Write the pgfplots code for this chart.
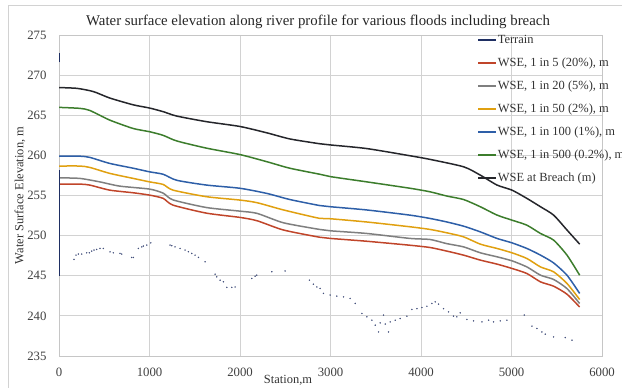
\documentclass[border=0pt]{standalone}
\usepackage{fontspec}
\setmainfont{Liberation Serif}
\usepackage{pgfplots}
\usepackage{pgfplotstable}
\pgfplotsset{compat=1.18}

\definecolor{cTerrain}{HTML}{1F2F63}
\definecolor{cRed}{HTML}{C0452A}
\definecolor{cGray}{HTML}{7F7F7F}
\definecolor{cGold}{HTML}{E0A010}
\definecolor{cBlue}{HTML}{2E5FA8}
\definecolor{cGreen}{HTML}{3C7D2C}
\definecolor{cBreach}{HTML}{25262B}

% Water surface elevation profiles (station in m, elevation in m)
\pgfplotstableread{
x y
0 256.42
230 256.42
340 256.30
560 255.67
820 255.34
1000 255.05
1150 254.65
1260 253.80
1630 252.80
2000 252.27
2190 251.85
2480 250.70
2880 249.80
3000 249.65
3400 249.30
3880 248.80
4100 248.52
4286 248.07
4470 247.57
4655 246.95
4840 246.45
5005 245.91
5170 245.28
5320 244.24
5465 243.70
5613 242.70
5753 241.10
}\wseFive
\pgfplotstableread{
x y
0 257.20
230 257.13
450 256.70
670 256.17
1000 255.80
1150 255.30
1260 254.45
1630 253.50
2000 253.05
2190 252.77
2480 251.60
2880 250.77
3000 250.60
3400 250.27
3880 249.65
4100 249.52
4286 249.00
4470 248.60
4655 247.86
4840 247.36
5005 246.86
5170 246.10
5320 245.07
5465 244.54
5613 243.40
5753 241.54
}\wseTwenty
\pgfplotstableread{
x y
0 258.67
230 258.67
340 258.50
560 257.76
820 257.13
1000 256.70
1150 256.38
1260 255.67
1630 254.85
2000 254.43
2190 254.10
2480 253.20
2880 252.15
3000 252.10
3400 251.70
3880 251.10
4100 250.77
4286 250.35
4470 249.85
4655 248.94
4840 248.40
5005 247.86
5170 247.15
5320 246.10
5465 245.49
5613 244.04
5753 242.04
}\wseFifty
\pgfplotstableread{
x y
0 259.90
230 259.90
340 259.75
560 259.00
820 258.40
1000 257.95
1150 257.65
1300 256.90
1630 256.30
2000 255.90
2300 255.25
2550 254.50
2880 253.75
3000 253.60
3400 253.20
3880 252.55
4100 252.14
4286 251.70
4470 251.18
4655 250.47
4840 249.65
5005 249.10
5170 248.40
5320 247.57
5465 246.60
5613 245.07
5753 242.80
}\wseHundred
\pgfplotstableread{
x y
0 265.98
230 265.86
340 265.60
560 264.40
820 263.35
1000 262.95
1150 262.50
1300 261.80
1630 260.90
2000 260.10
2300 259.20
2550 258.40
2880 257.65
3000 257.35
3400 256.70
3880 255.90
4100 255.46
4286 254.93
4470 254.50
4655 253.60
4840 252.56
5005 251.93
5170 251.30
5320 250.27
5465 249.44
5613 247.57
5753 245.07
}\wseFiveHundred
\pgfplotstableread{
x y
0 268.45
200 268.35
380 267.95
560 267.15
820 266.30
1000 265.90
1150 265.45
1300 264.90
1630 264.20
2000 263.60
2300 262.80
2550 262.05
2880 261.45
3000 261.30
3400 260.85
3880 259.95
4100 259.50
4470 258.58
4655 257.54
4840 256.30
5005 255.67
5170 254.64
5320 253.60
5465 252.56
5613 250.70
5753 248.94
}\wseBreach
% Surveyed terrain points along the profile
\pgfplotstableread{
x y
166 247.03
188 247.57
214 247.70
251 247.70
306 247.86
335 247.86
361 248.07
387 248.20
416 248.28
453 248.40
490 248.40
564 247.98
600 247.86
674 247.78
693 247.70
803 247.28
822 247.28
877 248.40
915 248.60
932 248.70
970 248.82
1014 249.10
1227 248.82
1246 248.74
1282 248.60
1338 248.40
1393 248.20
1430 248.00
1467 247.78
1504 247.57
1541 247.28
1614 246.74
1725 245.20
1743 244.87
1780 244.45
1817 244.25
1854 243.55
1909 243.55
1946 243.60
2130 244.66
2167 244.95
2185 245.07
2351 245.50
2498 245.60
2767 244.45
2811 243.95
2849 243.60
2885 243.42
2922 242.80
2996 242.60
3070 242.46
3144 242.37
3217 242.17
3273 241.55
3347 240.30
3402 239.88
3457 239.46
3494 238.84
3531 238.00
3549 239.13
3586 240.10
3605 238.98
3641 238.00
3660 239.25
3715 239.46
3770 239.67
3844 239.96
3899 240.80
3955 240.90
4010 241.04
4065 241.20
4120 241.55
4157 241.75
4194 241.46
4249 240.90
4304 240.50
4359 239.96
4396 239.88
4433 240.38
4507 239.55
4581 239.38
4673 239.25
4747 239.46
4802 239.25
4876 239.38
4949 239.46
5141 240.10
5226 238.72
5281 238.43
5336 238.00
5373 237.72
5465 237.38
5594 237.30
5668 236.97
}\terrainPts

\begin{document}
\begin{tikzpicture}[x=1bp,y=1bp]
\begin{axis}[
  at={(59bp,31bp)}, anchor=south west,
  scale only axis, width=543bp, height=321bp,
  xmin=0, xmax=6000, ymin=235, ymax=275,
  xtick={0,1000,...,6000}, ytick={235,240,...,275},
  grid=major,
  major grid style={draw=gray!35, line width=0.8bp},
  axis line style={draw=gray!45, line width=0.8bp},
  tick style={draw=none},
  /pgf/number format/assume math mode=true,
  /pgf/number format/1000 sep={},
  ticklabel style={font=\fontsize{12.8}{14}\selectfont, text=black!75},
  yticklabel style={xshift=-9bp},
  xticklabel style={yshift=-8bp},
  legend style={at={(0.77,1)}, anchor=north west, yshift=2bp,
    draw=none, fill=none, font=\fontsize{12.5}{14}\selectfont,
    inner xsep=0bp, inner ysep=0bp, row sep=9bp,
    nodes={inner sep=1bp, text height=9bp, text depth=3bp, text=black!80},
    cells={anchor=west}},
  legend image code/.code={\draw[#1, line width=1.5bp] (0bp,0bp) -- (18bp,0bp);},
  every axis plot/.append style={line width=1.5bp},
]
\addlegendimage{color=cTerrain}
\addlegendentry{Terrain}
\addplot[cRed, smooth, tension=0.4] table {\wseFive};
\addlegendentry{WSE, 1 in 5 (20\%), m}
\addplot[cGray, smooth, tension=0.4] table {\wseTwenty};
\addlegendentry{WSE, 1 in 20 (5\%), m}
\addplot[cGold, smooth, tension=0.4] table {\wseFifty};
\addlegendentry{WSE, 1 in 50 (2\%), m}
\addplot[cBlue, smooth, tension=0.4] table {\wseHundred};
\addlegendentry{WSE, 1 in 100 (1\%), m}
\addplot[cGreen, smooth, tension=0.4] table {\wseFiveHundred};
\addlegendentry{WSE, 1 in 500 (0.2\%), m}
\addplot[cBreach, smooth, tension=0.4] table {\wseBreach};
\addlegendentry{WSE at Breach (m)}
% terrain: short riser at the upstream end, then scattered survey points
\addplot[cTerrain, line width=1.6bp, forget plot] coordinates {(0,245) (0,258.2)};
\addplot[cTerrain, line width=0.8bp, forget plot] coordinates {(0,271.6) (0,272.8)};
\addplot[only marks, mark=*, mark size=0.6bp, cTerrain!85, line width=0.2bp, forget plot] table {\terrainPts};
\end{axis}
\pgfresetboundingbox
\path[use as bounding box] (0,0) rectangle (622,387);
\draw[gray!35, line width=0.8bp] (8,-5) rectangle (632,382);
\node[font=\fontsize{14.9}{17}\selectfont, text=black!85] at (318,365)
  {Water surface elevation along river profile for various floods including breach};
\node[font=\fontsize{12.5}{14}\selectfont, text=black!80] at (288,7) {Station,m};
\node[font=\fontsize{12.5}{14}\selectfont, text=black!80, rotate=90] at (20,191.5)
  {Water Surface Elevation, m};
\end{tikzpicture}
\end{document}
